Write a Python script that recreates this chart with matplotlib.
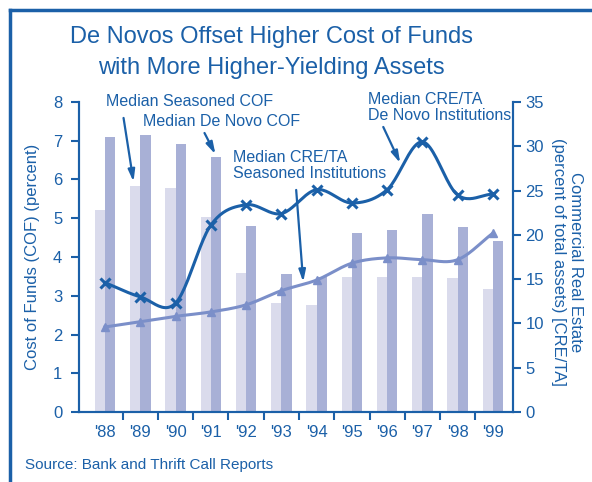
import matplotlib
matplotlib.use("Agg")
import matplotlib.pyplot as plt
from matplotlib.lines import Line2D
import numpy as np

plt.rcParams['font.family'] = ['Liberation Sans', 'DejaVu Sans']

# 数据
years = ["'88", "'89", "'90", "'91", "'92", "'93", "'94", "'95", "'96", "'97", "'98", "'99"]
seasoned_cof = [5.21, 5.83, 5.78, 5.03, 3.59, 2.81, 2.76, 3.48, 3.48, 3.48, 3.46, 3.17]
denovo_cof = [7.10, 7.15, 6.92, 6.58, 4.80, 3.56, 3.48, 4.62, 4.70, 5.11, 4.77, 4.41]
denovo_cre = [14.6, 13.0, 12.3, 21.1, 23.4, 22.4, 25.1, 23.6, 25.1, 30.5, 24.5, 24.6]
seasoned_cre = [9.6, 10.2, 10.8, 11.3, 12.1, 13.7, 14.9, 16.8, 17.4, 17.2, 17.2, 20.2]

blue = '#1b60a8'
light_bar = '#dadbec'
dark_bar = '#a8b0d6'
line2 = '#7b8fc9'


def smooth(xs, ys, n=24):
    # 平滑曲线（Hermite 样条）
    xs = np.asarray(xs, float)
    ys = np.asarray(ys, float)
    m = np.gradient(ys, xs)
    px, py = [], []
    for i in range(len(xs) - 1):
        t = np.linspace(0, 1, n)
        h = xs[i + 1] - xs[i]
        h00 = 2 * t**3 - 3 * t**2 + 1
        h10 = t**3 - 2 * t**2 + t
        h01 = -2 * t**3 + 3 * t**2
        h11 = t**3 - t**2
        px.extend(xs[i] + t * h)
        py.extend(h00 * ys[i] + h10 * h * m[i] + h01 * ys[i + 1] + h11 * h * m[i + 1])
    return np.array(px), np.array(py)


fig = plt.figure(figsize=(5.92, 4.82), dpi=100)
ax = fig.add_axes([0.1334, 0.1452, 0.7332, 0.6432])
ax2 = ax.twinx()

x = np.arange(len(years))
w = 0.29
ax.bar(x - w / 2, seasoned_cof, w, color=light_bar, zorder=1)
ax.bar(x + w / 2, denovo_cof, w, color=dark_bar, zorder=1)
ax.set_ylim(0, 8)
ax.set_xlim(-0.74, 11.57)
ax.set_yticks(range(0, 9))

sx, sy = smooth(x, denovo_cre)
ax2.plot(sx, sy, color=blue, lw=2.2, zorder=3)
ax2.plot(x, denovo_cre, ls='none', marker='x', ms=7, mew=2.2, color=blue, zorder=4)
sx, sy = smooth(x, seasoned_cre)
ax2.plot(sx, sy, color=line2, lw=2.2, zorder=3)
ax2.plot(x, seasoned_cre, ls='none', marker='^', ms=5.5, color=line2, zorder=4)
ax2.set_ylim(0, 35)
ax2.set_yticks(range(0, 36, 5))

for a in (ax, ax2):
    a.spines['top'].set_visible(False)
    for s in ('left', 'right', 'bottom'):
        a.spines[s].set_color(blue)
        a.spines[s].set_linewidth(1.5)
    a.tick_params(colors=blue, labelsize=12, width=1.5, length=6)

ax.set_xticks(x)
ax.set_xticklabels(years)
ax.set_xticks(x[:-1] + 0.5, minor=True)
ax.tick_params(axis='x', which='major', length=0, pad=9)
ax.tick_params(axis='x', which='minor', length=6, width=1.5, color=blue)
ax.tick_params(axis='y', pad=6)
ax2.tick_params(axis='y', pad=3)

# 注释
fs = 11.5
arrow = dict(arrowstyle='-|>,head_length=0.7,head_width=0.2', color=blue, lw=1.6, shrinkA=0, shrinkB=0)
ax2.text(0.02, 35.0, 'Median Seasoned COF', color=blue, fontsize=fs, va='center', ha='left')
ax2.text(1.09, 32.85, 'Median De Novo COF', color=blue, fontsize=fs, va='center', ha='left')
ax2.text(3.64, 27.8, 'Median CRE/TA\nSeasoned Institutions', color=blue, fontsize=fs,
         va='center', ha='left', linespacing=1.05)
ax2.text(7.46, 34.4, 'Median CRE/TA\nDe Novo Institutions', color=blue, fontsize=fs,
         va='center', ha='left', linespacing=1.05)
ax2.annotate('', xy=(0.807, 26.0), xytext=(0.524, 33.2), arrowprops=arrow, annotation_clip=False)
ax2.annotate('', xy=(3.13, 29.1), xytext=(2.82, 31.5), arrowprops=arrow, annotation_clip=False)
ax2.annotate('', xy=(5.62, 14.68), xytext=(5.42, 25.07), arrowprops=arrow, annotation_clip=False)
ax2.annotate('', xy=(8.37, 28.11), xytext=(7.89, 32.18), arrowprops=arrow, annotation_clip=False)

# 坐标轴标签
fig.text(33 / 592, 1 - 257 / 482, 'Cost of Funds (COF) (percent)', rotation=90,
         color=blue, fontsize=12, ha='center', va='center')
fig.text(567 / 592, 1 - 262 / 482, 'Commercial Real Estate\n(percent of total assets) [CRE/TA]',
         rotation=270, color=blue, fontsize=12, ha='center', va='center',
         multialignment='center', linespacing=1.1)

# 标题
fig.text(271 / 592, 1 - 37 / 482, 'De Novos Offset Higher Cost of Funds', color=blue,
         fontsize=17, ha='center', va='center')
fig.text(271 / 592, 1 - 68 / 482, 'with More Higher-Yielding Assets', color=blue,
         fontsize=17, ha='center', va='center')
fig.text(25 / 592, 1 - 465 / 482, 'Source: Bank and Thrift Call Reports', color=blue,
         fontsize=11, ha='left', va='center')

# 边框
fig.add_artist(Line2D([10 / 592, 1], [1 - 10 / 482, 1 - 10 / 482], color=blue, lw=2.5,
                      transform=fig.transFigure))
fig.add_artist(Line2D([10 / 592, 10 / 592], [0, 1 - 10 / 482], color=blue, lw=2.5,
                      transform=fig.transFigure))

plt.savefig('out.png', dpi=100)
